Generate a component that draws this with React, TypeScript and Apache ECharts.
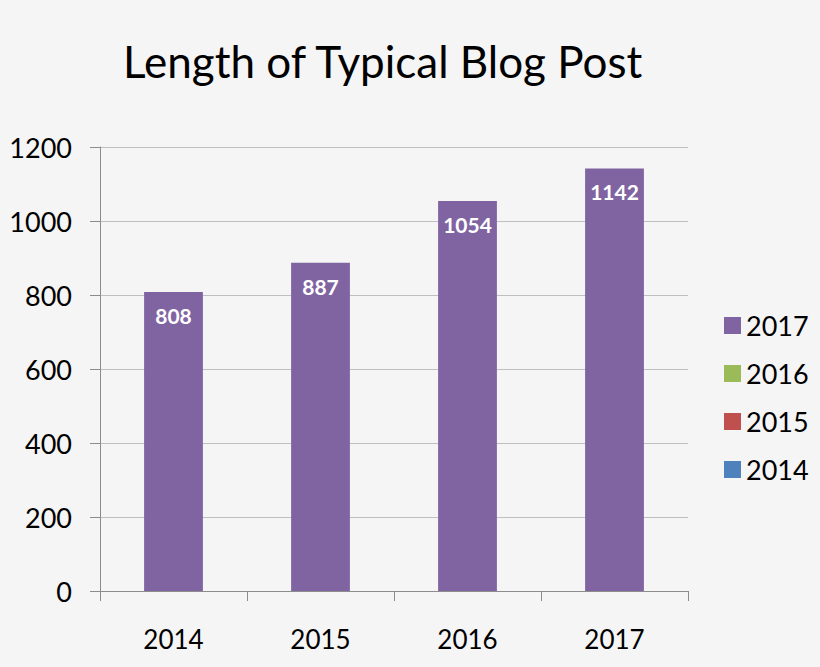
import * as echarts from 'echarts';
import { useEffect, useRef } from 'react';

const categories = ['2014', '2015', '2016', '2017'];
const postLength = [808, 887, 1054, 1142];
const legendOrder = ['2017', '2016', '2015', '2014'];
const seriesColors: Record<string, string> = {
  '2017': '#8064A2',
  '2016': '#9BBB59',
  '2015': '#C0504D',
  '2014': '#4F81BD',
};

function App() {
  const chartRef = useRef(null);

  useEffect(() => {
    const myChart = echarts.init(chartRef.current, null, { renderer: 'svg' });

    // Only the 2017 series carries values; the others just show in the legend
    const series = ['2014', '2015', '2016', '2017'].map((name) => ({
      name,
      type: 'bar',
      stack: 'total',
      barWidth: '40%',
      itemStyle: { color: seriesColors[name] },
      label: {
        show: name === '2017',
        position: 'insideTop',
        distance: 13,
        color: '#ffffff',
        fontSize: 21,
        fontWeight: 'bold',
        fontFamily: 'Lato',
      },
      data: name === '2017' ? postLength : [],
    }));

    const option = {
      animation: false,
      backgroundColor: '#f5f5f5',
      textStyle: { fontFamily: 'Lato' },
      title: {
        text: 'Length of Typical Blog Post',
        left: 118,
        top: 34,
        textStyle: {
          fontSize: 44,
          fontWeight: 'normal',
          color: '#000',
          fontFamily: 'Lato',
        },
      },
      legend: {
        orient: 'vertical',
        left: 719,
        top: 307,
        itemWidth: 17,
        itemHeight: 17,
        itemGap: 21,
        icon: 'rect',
        data: legendOrder,
        textStyle: { fontSize: 27, color: '#000', fontFamily: 'Lato' },
      },
      grid: { left: 100, right: 132, top: 147, bottom: 76 },
      xAxis: {
        type: 'category',
        data: categories,
        axisLine: { lineStyle: { color: '#8c8c8c' } },
        axisTick: { show: true, length: 10, lineStyle: { color: '#8c8c8c' } },
        axisLabel: {
          color: '#000',
          fontSize: 26,
          margin: 35,
          fontFamily: 'Lato',
        },
      },
      yAxis: {
        type: 'value',
        min: 0,
        max: 1200,
        interval: 200,
        axisLine: { show: true, lineStyle: { color: '#8c8c8c' } },
        axisTick: { show: true, length: 10, lineStyle: { color: '#8c8c8c' } },
        axisLabel: {
          color: '#000',
          fontSize: 27,
          margin: 28,
          fontFamily: 'Lato',
          formatter: (v: number) => String(v),
        },
        splitLine: { lineStyle: { color: '#bfbfbf' } },
      },
      series,
    };

    myChart.setOption(option);

    return () => {
      myChart.dispose();
    };
  }, []);

  return (
    <div
      ref={chartRef}
      style={{ position: 'absolute', left: 0, top: 0, width: '820px', height: '667px' }}
    ></div>
  );
}

export default App;
